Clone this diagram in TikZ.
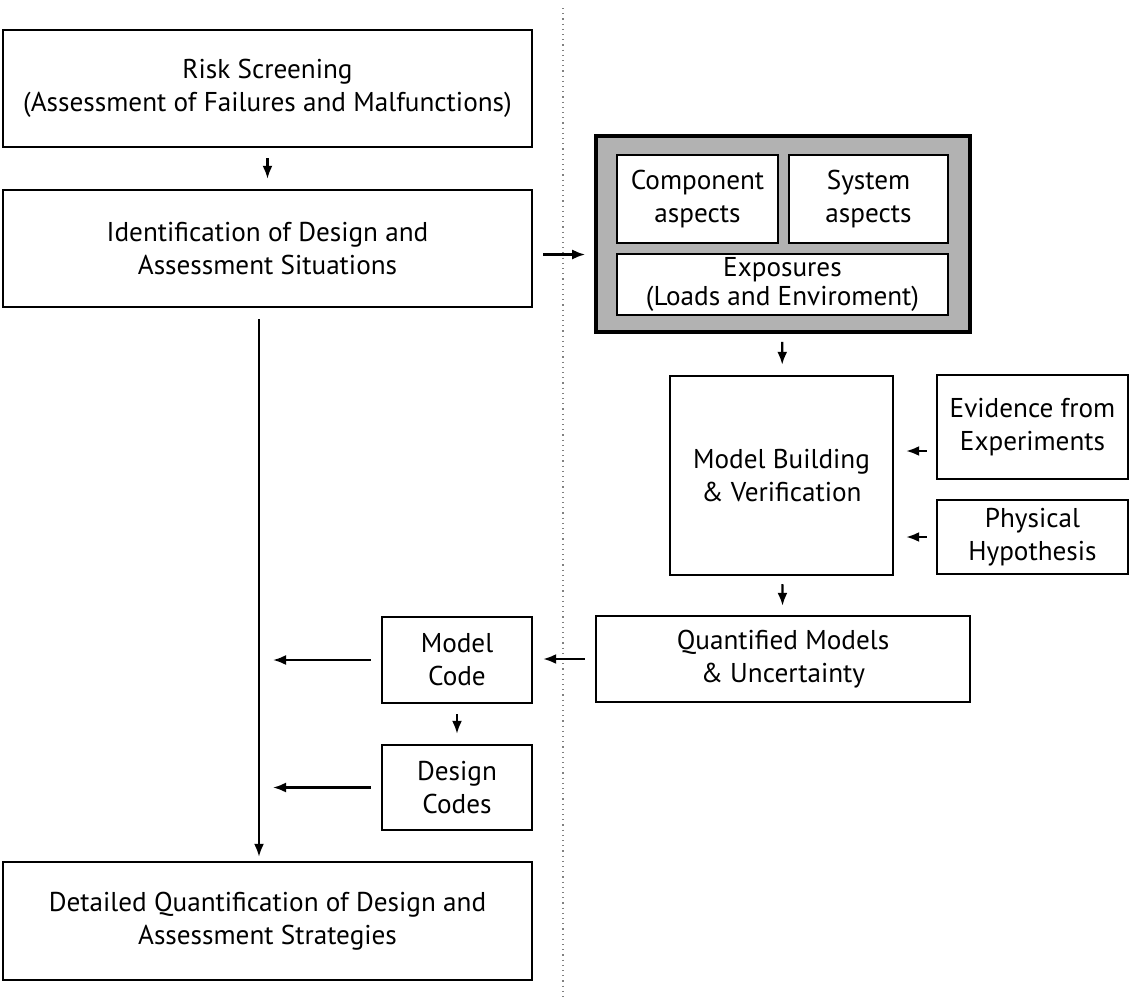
\documentclass[tikz,border=0pt]{standalone}
\usepackage{fontspec}
\setmainfont{PT Sans}
\usepackage{tikz}
\usetikzlibrary{positioning, arrows.meta, calc}

\begin{document}
\begin{tikzpicture}[x=0.5pt, y=-0.5pt,
  box/.style={draw, line width=1.2pt, fill=white, align=center, inner sep=0pt,
              font=\fontsize{13.6}{16.5}\selectfont},
  arr/.style={line width=1.1pt, -{Latex[length=6.5pt,width=5pt]}}]
\useasboundingbox (0,0) rectangle (1131,997);
% dotted divider
\draw[gray, line width=0.6pt, dotted] (563,8) -- (563,997);

% left column
\node[box, minimum width=264.5pt, minimum height=58.5pt] (risk) at (267.5,88.5)
  {Risk Screening\\(Assessment of Failures and Malfunctions)};
\node[box, minimum width=264.5pt, minimum height=58.5pt] (ident) at (267.5,248.5)
  {Identification of Design and\\Assessment Situations};
\node[box, minimum width=264.5pt, minimum height=59pt] (detail) at (267.5,921)
  {Detailed Quantification of Design and\\Assessment Strategies};
\node[box, minimum width=75pt, minimum height=43pt] (mcode) at (457,660) {Model\\Code};
\node[box, minimum width=75pt, minimum height=42.5pt] (dcodes) at (457,787.5) {Design\\Codes};
\coordinate (trunk) at (259,500);

% right column
\node[draw, line width=1.8pt, fill=black!30, minimum width=187pt, minimum height=98pt] (aspects) at (783,234) {};
\node[box, minimum width=80.5pt, minimum height=44pt] (comp) at (697.5,199) {Component\\aspects};
\node[box, minimum width=79.5pt, minimum height=44pt] (sys) at (868.5,199) {System\\aspects};
\node[box, minimum width=165.5pt, minimum height=30.5pt, font=\fontsize{13.6}{14.5}\selectfont] (expo) at (782.5,284.5) {Exposures\\(Loads and Enviroment)};
\node[box, minimum width=111.5pt, minimum height=99.5pt] (model) at (781.5,475.5) {Model Building\\\& Verification};
\node[box, minimum width=95.5pt, minimum height=52pt] (evid) at (1032.5,427) {Evidence from\\Experiments};
\node[box, minimum width=95.5pt, minimum height=37pt] (phys) at (1032.5,537) {Physical\\Hypothesis};
\node[box, minimum width=187pt, minimum height=43pt] (quant) at (783,659) {Quantified Models\\\& Uncertainty};

% connectors
\draw[arr, shorten <=5pt, shorten >=5pt] (risk) -- (ident);
\draw[arr, shorten <=5pt, shorten >=4.5pt] ([yshift=-3pt]ident.east) -- ([yshift=-3pt]ident.east -| aspects.west);
\draw[arr, shorten <=4pt, shorten >=5pt] (aspects) -- (model);
\draw[arr, shorten <=4.5pt, shorten >=6pt] ([yshift=-12pt]evid.west) -- ([yshift=-12pt]evid.west -| model.east);
\draw[arr, shorten <=4.5pt, shorten >=6pt] (phys.west) -- (phys.west -| model.east);
\draw[arr, shorten <=4pt, shorten >=4.5pt] (model) -- (quant);
\draw[arr, shorten <=5pt, shorten >=5pt] (quant.west) -- (quant.west -| mcode.east);
\draw[arr, shorten <=5pt, shorten >=7pt] (mcode.west) -- (mcode.west -| trunk);
\draw[arr, shorten <=5pt, shorten >=5pt] (mcode) -- (dcodes);
\draw[arr, shorten <=5pt, shorten >=7pt] (dcodes.west) -- (dcodes.west -| trunk);
\draw[arr, shorten <=5.5pt, shorten >=2pt] (ident.south -| trunk) -- (detail.north -| trunk);
\end{tikzpicture}
\end{document}
